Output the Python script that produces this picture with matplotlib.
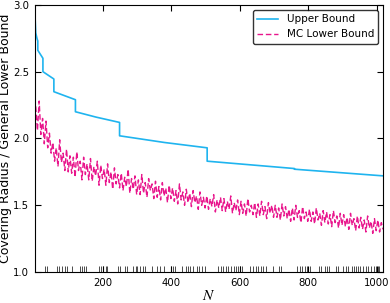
import numpy as np
import matplotlib.pyplot as plt

plt.rcParams['font.family'] = ['DejaVu Sans']
plt.rcParams['mathtext.fontset'] = 'stix'

# upper bound: decreasing segments with drops near powers of two
upper_n = [2, 4, 8, 10, 10, 25, 25, 57, 57, 120, 120, 180, 249, 249, 380, 505, 505, 760, 760, 1020]
upper_v = [2.91, 2.79, 2.745, 2.73, 2.66, 2.60, 2.50, 2.445, 2.35, 2.29, 2.20, 2.16, 2.12,
           2.02, 1.97, 1.93, 1.83, 1.775, 1.77, 1.72]

# Monte Carlo lower bound, sampled every 5
mc_n = list(range(4, 1020, 5))
mc_v = [
    2.24, 2.06, 2.28, 2.03, 2.15, 1.96, 2.13, 1.93, 2.04, 1.89,
    1.97, 1.83, 1.93, 1.79, 1.99, 1.82, 1.89, 1.76, 1.92, 1.75,
    1.87, 1.74, 1.86, 1.71, 1.90, 1.76, 1.83, 1.69, 1.86, 1.73,
    1.81, 1.69, 1.85, 1.68, 1.79, 1.72, 1.83, 1.65, 1.80, 1.70,
    1.77, 1.65, 1.81, 1.67, 1.75, 1.62, 1.78, 1.66, 1.73, 1.63,
    1.74, 1.61, 1.71, 1.64, 1.77, 1.59, 1.70, 1.62, 1.72, 1.58,
    1.69, 1.58, 1.73, 1.59, 1.67, 1.56, 1.70, 1.61, 1.66, 1.55,
    1.68, 1.56, 1.64, 1.54, 1.67, 1.57, 1.63, 1.52, 1.65, 1.55,
    1.63, 1.53, 1.61, 1.51, 1.66, 1.54, 1.60, 1.50, 1.62, 1.52,
    1.59, 1.49, 1.61, 1.52, 1.57, 1.47, 1.60, 1.50, 1.56, 1.48,
    1.57, 1.47, 1.55, 1.49, 1.58, 1.45, 1.54, 1.48, 1.56, 1.46,
    1.55, 1.45, 1.53, 1.47, 1.57, 1.44, 1.52, 1.46, 1.54, 1.43,
    1.53, 1.44, 1.51, 1.42, 1.55, 1.45, 1.50, 1.43, 1.52, 1.41,
    1.51, 1.42, 1.53, 1.43, 1.49, 1.40, 1.52, 1.44, 1.50, 1.41,
    1.50, 1.41, 1.48, 1.39, 1.51, 1.42, 1.49, 1.40, 1.47, 1.38,
    1.48, 1.39, 1.50, 1.41, 1.46, 1.37, 1.49, 1.40, 1.45, 1.38,
    1.47, 1.38, 1.45, 1.36, 1.48, 1.39, 1.44, 1.35, 1.46, 1.37,
    1.45, 1.36, 1.43, 1.34, 1.46, 1.37, 1.42, 1.33, 1.44, 1.35,
    1.43, 1.34, 1.41, 1.32, 1.44, 1.35, 1.40, 1.31, 1.42, 1.33,
    1.41, 1.32, 1.39, 1.30, 1.42, 1.33, 1.38, 1.29, 1.40, 1.31,
    1.39, 1.30, 1.37, 1.32,
]

# rug marks along the bottom
rug_n = [30, 37, 66, 72, 81, 90, 96, 111, 134, 140, 145, 152, 189, 195, 201, 208, 212,
         244, 249, 264, 271, 288, 296, 300, 310, 318, 324, 345, 357, 366, 378, 398, 405,
         411, 432, 442, 449, 456, 464, 474, 481, 490, 498, 537, 544, 551, 559, 567, 576,
         583, 589, 595, 600, 608, 629, 639, 647, 654, 662, 668, 676, 698, 715, 720, 768,
         776, 782, 792, 798, 805, 832, 839, 849, 854, 861, 881, 888, 902, 910, 917, 927,
         934, 939, 946, 953, 961, 969, 975, 983, 992, 998, 1003, 1008]

fig = plt.figure(figsize=(3.9, 3.03), dpi=100)
ax = fig.add_axes([0.089, 0.102, 0.894, 0.882])

ax.plot(upper_n, upper_v, color="#1fb4ef", lw=1.2, label="Upper Bound")
ax.plot(mc_n, mc_v, color="#e8158c", lw=1.0, ls="--", dashes=(4, 2), label="MC Lower Bound")
ax.vlines(rug_n, 0, 0.022, transform=ax.get_xaxis_transform(), color="k", lw=0.7, alpha=0.7)

ax.set_xlim(1, 1020)
ax.set_ylim(1.0, 3.0)
ax.set_xticks([200, 400, 600, 800, 1000])
ax.set_yticks([1.0, 1.5, 2.0, 2.5, 3.0])
ax.tick_params(direction="in", top=True, right=True, length=4, labelsize=7.3, colors="k", pad=4)
ax.set_xlabel("$N$", fontsize=11, labelpad=0)
ax.set_ylabel("Covering Radius / General Lower Bound", fontsize=9, labelpad=1)
ax.legend(loc="upper right", fontsize=7.5, fancybox=True, edgecolor="k")

fig.savefig("out.png", dpi=100)
